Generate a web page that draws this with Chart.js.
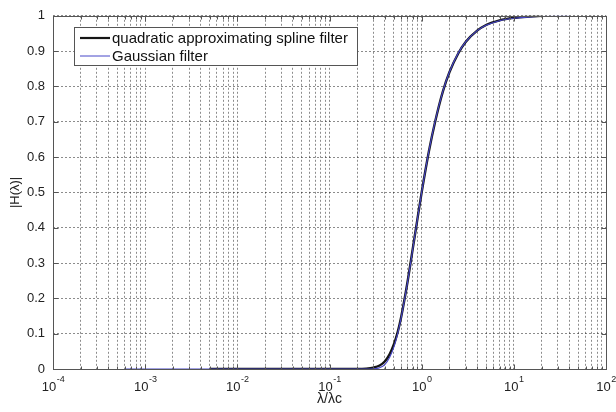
<!DOCTYPE html>
<html>
<head>
<meta charset="utf-8">
<script src="https://cdn.jsdelivr.net/npm/chart.js@4"></script>
<style>
  html, body { margin: 0; padding: 0; background: #fff; }
  #wrap { width: 616px; height: 412px; }
</style>
</head>
<body>
<div id="wrap"><canvas id="c" width="616" height="412"></canvas></div>
<script>
// ── Data ─────────────────────────────────────────────────────
const splineX = [0.005, 0.01, 0.05, 0.1, 0.2, 0.25, 0.3, 0.35, 0.4, 0.45, 0.5, 0.55, 0.6, 0.7, 0.8, 0.9, 1, 1.2, 1.4, 1.7, 2, 2.5, 3, 4, 5, 7, 10, 15, 20];
const splineY = [0, 0, 0, 0, 0, 0.001, 0.004, 0.010, 0.022, 0.042, 0.070, 0.105, 0.148, 0.244, 0.340, 0.425, 0.5, 0.617, 0.700, 0.786, 0.840, 0.894, 0.926, 0.958, 0.974, 0.987, 0.994, 0.998, 1.0];

const gaussX = [0.0006, 0.001, 0.01, 0.1, 0.2, 0.25, 0.3, 0.35, 0.4, 0.45, 0.5, 0.55, 0.6, 0.7, 0.8, 0.9, 1, 1.2, 1.4, 1.7, 2, 2.5, 3, 4, 5, 7, 10, 15, 20, 40];
const gaussY = [0, 0, 0, 0, 0, 0, 0.0005, 0.0035, 0.013, 0.033, 0.0625, 0.101, 0.146, 0.243, 0.339, 0.425, 0.5, 0.618, 0.702, 0.787, 0.841, 0.895, 0.926, 0.958, 0.973, 0.986, 0.993, 0.997, 0.998, 0.9996];

const seriesNames = ['quadratic approximating spline filter', 'Gaussian filter'];
const xDecades = [-4, -3, -2, -1, 0, 1, 2];     // exponents of the labelled x ticks
const xMinorSteps = [1, 2, 3, 4, 5, 6, 7, 8, 9]; // grid lines inside each decade
const yTicks = [0, 0.1, 0.2, 0.3, 0.4, 0.5, 0.6, 0.7, 0.8, 0.9, 1];

const FONT = '"Liberation Sans", Arial, sans-serif';
const BLACK = '#151515';
const BLUE = '#4646c8';

const $ = id => document.getElementById(id);
const toPoints = (xs, ys) => xs.map((x, i) => ({ x: x, y: ys[i] }));

// ── Custom drawing: frame, inner ticks, x labels, inset legend ──
const decorations = {
  id: 'decorations',
  afterDraw(chart) {
    const ctx = chart.ctx;
    const a = chart.chartArea;
    const xs = chart.scales.x;
    const ys = chart.scales.y;
    const L = Math.round(a.left) + 0.5, R = Math.round(a.right) + 0.5;
    const T = Math.round(a.top) + 0.5, B = Math.round(a.bottom) + 0.5;

    ctx.save();
    // frame
    ctx.strokeStyle = '#555';
    ctx.lineWidth = 1;
    ctx.strokeRect(L, T, R - L, B - T);

    // inner tick marks (MATLAB style)
    ctx.beginPath();
    xs.ticks.forEach(t => {
      const px = Math.round(xs.getPixelForValue(t.value)) + 0.5;
      const len = Number.isInteger(Math.log10(t.value) + 1e-9) || Math.abs(Math.log10(t.value) - Math.round(Math.log10(t.value))) < 1e-6 ? 5 : 3;
      ctx.moveTo(px, B); ctx.lineTo(px, B - len);
      ctx.moveTo(px, T); ctx.lineTo(px, T + len);
    });
    ys.ticks.forEach(t => {
      const py = Math.round(ys.getPixelForValue(t.value)) + 0.5;
      ctx.moveTo(L, py); ctx.lineTo(L + 5, py);
      ctx.moveTo(R, py); ctx.lineTo(R - 5, py);
    });
    ctx.stroke();

    // x tick labels 10^n
    ctx.fillStyle = '#222';
    ctx.textBaseline = 'alphabetic';
    xDecades.forEach(e => {
      const px = xs.getPixelForValue(Math.pow(10, e));
      ctx.font = '13px ' + FONT;
      const wBase = ctx.measureText('10').width;
      ctx.font = '9px ' + FONT;
      const exp = String(e);
      const wExp = ctx.measureText(exp).width;
      const left = px - (wBase + wExp) / 2;
      ctx.textAlign = 'left';
      ctx.font = '13px ' + FONT;
      ctx.fillText('10', left, a.bottom + 22);
      ctx.font = '9px ' + FONT;
      ctx.fillText(exp, left + wBase + 0.5, a.bottom + 13);
    });

    // legend box
    const lx = 74, ly = 27, lw = 283, lh = 38;
    ctx.fillStyle = '#fff';
    ctx.fillRect(lx, ly, lw, lh);
    ctx.strokeStyle = '#555';
    ctx.lineWidth = 1;
    ctx.strokeRect(lx + 0.5, ly + 0.5, lw, lh);
    const rows = [
      { name: seriesNames[0], color: BLACK, width: 2.2, y: ly + 11 },
      { name: seriesNames[1], color: BLUE, width: 1, y: ly + 29 }
    ];
    rows.forEach(r => {
      ctx.strokeStyle = r.color;
      ctx.lineWidth = r.width;
      ctx.beginPath();
      ctx.moveTo(lx + 6, r.y);
      ctx.lineTo(lx + 36, r.y);
      ctx.stroke();
      ctx.fillStyle = '#111';
      ctx.font = '15px ' + FONT;
      ctx.textAlign = 'left';
      ctx.textBaseline = 'middle';
      ctx.fillText(r.name, lx + 38, r.y + 1);
    });
    ctx.restore();
  }
};

const gridStyle = {
  color: 'rgba(0,0,0,0.45)',
  lineWidth: 1,
  drawTicks: false
};

new Chart($('c').getContext('2d'), {
  type: 'line',
  data: {
    datasets: [
      {
        label: seriesNames[0],
        data: toPoints(splineX, splineY),
        borderColor: BLACK,
        borderWidth: 2.4,
        pointRadius: 0,
        cubicInterpolationMode: 'monotone',
        order: 2
      },
      {
        label: seriesNames[1],
        data: toPoints(gaussX, gaussY),
        borderColor: BLUE,
        borderWidth: 1.1,
        pointRadius: 0,
        cubicInterpolationMode: 'monotone',
        order: 1
      }
    ]
  },
  options: {
    responsive: false,
    animation: false,
    layout: { padding: { top: 15, right: 10, left: 0, bottom: 0 } },
    plugins: {
      legend: { display: false },
      tooltip: { enabled: false }
    },
    scales: {
      x: {
        type: 'logarithmic',
        min: 1e-4,
        max: 100,
        afterBuildTicks: scale => {
          const ticks = [];
          xDecades.forEach(e => xMinorSteps.forEach(m => {
            const v = m * Math.pow(10, e);
            if (v <= 100) ticks.push({ value: v });
          }));
          scale.ticks = ticks;
        },
        afterFit: scale => { scale.height = 43; },
        ticks: { display: false, autoSkip: false },
        grid: Object.assign({}, gridStyle),
        border: { display: false, dash: [2, 2] },
        title: {
          display: true,
          text: 'λ/λc',
          color: '#222',
          font: { family: FONT, size: 14 },
          padding: { top: 0, bottom: 4 }
        }
      },
      y: {
        min: 0,
        max: 1,
        afterBuildTicks: scale => { scale.ticks = yTicks.map(v => ({ value: v })); },
        afterFit: scale => { scale.width = 53; },
        ticks: {
          color: '#222',
          padding: 8,
          font: { family: FONT, size: 13 },
          callback: v => (v === 0 ? '0' : v === 1 ? '1' : Number(v).toFixed(1))
        },
        grid: Object.assign({}, gridStyle),
        border: { display: false, dash: [2, 2] },
        title: {
          display: true,
          text: '|H(λ)|',
          color: '#222',
          font: { family: FONT, size: 13 },
          padding: { top: 8, bottom: 0 }
        }
      }
    }
  },
  plugins: [decorations]
});
</script>
</body>
</html>
